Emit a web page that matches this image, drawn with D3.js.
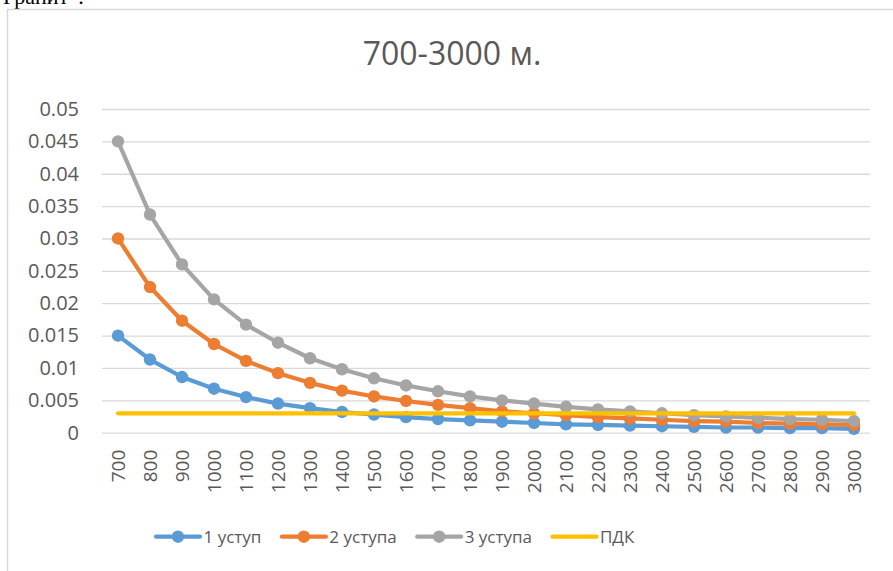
<!DOCTYPE html>
<html><head><meta charset="utf-8">
<script src="https://cdnjs.cloudflare.com/ajax/libs/d3/7.8.5/d3.min.js"></script>
<style>html,body{margin:0;padding:0;background:#fff;overflow:hidden}</style>
</head><body>
<svg id="c" width="893" height="571"></svg>
<script>
const categories = ["700","800","900","1000","1100","1200","1300","1400","1500","1600","1700","1800","1900","2000","2100","2200","2300","2400","2500","2600","2700","2800","2900","3000"];
const ustup1 = [0.015,0.0113,0.0086,0.0068,0.0055,0.0045,0.0038,0.0032,0.0028,0.0024,0.0021,0.0019,0.0017,0.0015,0.0013,0.0012,0.0011,0.0010,0.0009,0.0008,0.0008,0.0007,0.0007,0.0006];
const ustup2 = [0.030,0.0225,0.0173,0.0137,0.0111,0.0092,0.0077,0.0065,0.0056,0.0049,0.0043,0.0038,0.0033,0.0030,0.0027,0.0024,0.0022,0.0020,0.0018,0.0017,0.0015,0.0014,0.0013,0.0012];
const ustup3 = [0.045,0.0337,0.0260,0.0206,0.0167,0.0139,0.0115,0.0098,0.0084,0.0073,0.0064,0.0056,0.0050,0.0045,0.0040,0.0036,0.0033,0.0030,0.0027,0.0025,0.0023,0.0021,0.0020,0.0018];
const pdk = [0.003,0.003,0.003,0.003,0.003,0.003,0.003,0.003,0.003,0.003,0.003,0.003,0.003,0.003,0.003,0.003,0.003,0.003,0.003,0.003,0.003,0.003,0.003,0.003];
const yTicks = [0,0.005,0.01,0.015,0.02,0.025,0.03,0.035,0.04,0.045,0.05];
const yTickLabels = ["0","0.005","0.01","0.015","0.02","0.025","0.03","0.035","0.04","0.045","0.05"];
const seriesNames = ["1 уступ","2 уступа","3 уступа","ПДК"];
const seriesColors = ["#5B9BD5","#ED7D31","#A5A5A5","#FFC000"];
const seriesMarkers = [true,true,true,false];
const title = "700-3000 м.";
const topText = "Гранит”:";

const series = [ustup1, ustup2, ustup3, pdk];
const FONT = "'Open Sans', 'Noto Sans', sans-serif";
const TXT = "#595959";
const svg = d3.select("#c");

// partial text at top (cut off, as in the source page)
svg.append("text").attr("x",3).attr("y",4).attr("font-family","'Liberation Serif', serif")
  .attr("font-size",22).attr("fill","#000").text(topText);

// chart border
svg.append("rect").attr("x",7.5).attr("y",9.5).attr("width",900).attr("height",600)
  .attr("fill","none").attr("stroke","#d9d9d9").attr("stroke-width",1.5);

const x = d3.scaleBand().domain(categories).range([102,870]);
const y = d3.scaleLinear().domain([0,0.05]).range([432.7,109]);

svg.append("text").attr("x",452).attr("y",65).attr("text-anchor","middle")
  .attr("font-family",FONT).attr("font-size",32).attr("fill",TXT).text(title);

// gridlines + y labels
const yAxis = d3.axisLeft(y).tickValues(yTicks).tickSize(-(870-102))
  .tickFormat((d,i)=>yTickLabels[i]).tickPadding(23);
const gy = svg.append("g").attr("transform","translate(102,0)").call(yAxis);
gy.select(".domain").remove();
gy.selectAll(".tick line").attr("stroke","#d9d9d9").attr("stroke-width",1.3);
gy.selectAll(".tick text").attr("font-family",FONT).attr("font-size",20).attr("fill",TXT);

// x axis labels
const xAxis = d3.axisBottom(x).tickSize(0).tickPadding(0);
const gx = svg.append("g").attr("transform","translate(0,432.7)").call(xAxis);
gx.select(".domain").remove();
gx.selectAll(".tick text")
  .attr("font-family",FONT).attr("font-size",19).attr("fill",TXT)
  .attr("text-anchor","end").attr("dy","0.35em").attr("y",0)
  .attr("transform","translate(0,17) rotate(-90)");

const cx = c => x(c) + x.bandwidth()/2;
const line = d3.line().x((d,i)=>cx(categories[i])).y(d=>y(d));

series.forEach((s,k)=>{
  const g = svg.append("g");
  g.append("path").datum(s).attr("d",line).attr("fill","none")
    .attr("stroke",seriesColors[k]).attr("stroke-width",4.2).attr("stroke-linejoin","round").attr("stroke-linecap","round");
  if (seriesMarkers[k]) {
    g.selectAll("circle").data(s).join("circle")
      .attr("cx",(d,i)=>cx(categories[i])).attr("cy",d=>y(d)).attr("r",6.2)
      .attr("fill",seriesColors[k]);
  }
});

// legend
const lg = svg.append("g");
let lx = 156;
const ly = 536.7;
seriesNames.forEach((n,k)=>{
  const g = lg.append("g");
  g.append("line").attr("x1",lx).attr("x2",lx+44).attr("y1",ly).attr("y2",ly)
    .attr("stroke",seriesColors[k]).attr("stroke-width",4.2).attr("stroke-linecap","round");
  if (seriesMarkers[k]) g.append("circle").attr("cx",lx+22).attr("cy",ly).attr("r",6.2).attr("fill",seriesColors[k]);
  const t = g.append("text").attr("x",lx+47.5).attr("y",ly).attr("dy","0.35em")
    .attr("font-family",FONT).attr("font-size",17).attr("fill",TXT).text(n);
  lx += 47.5 + t.node().getComputedTextLength() + 20.5;
});
</script>
</body></html>
